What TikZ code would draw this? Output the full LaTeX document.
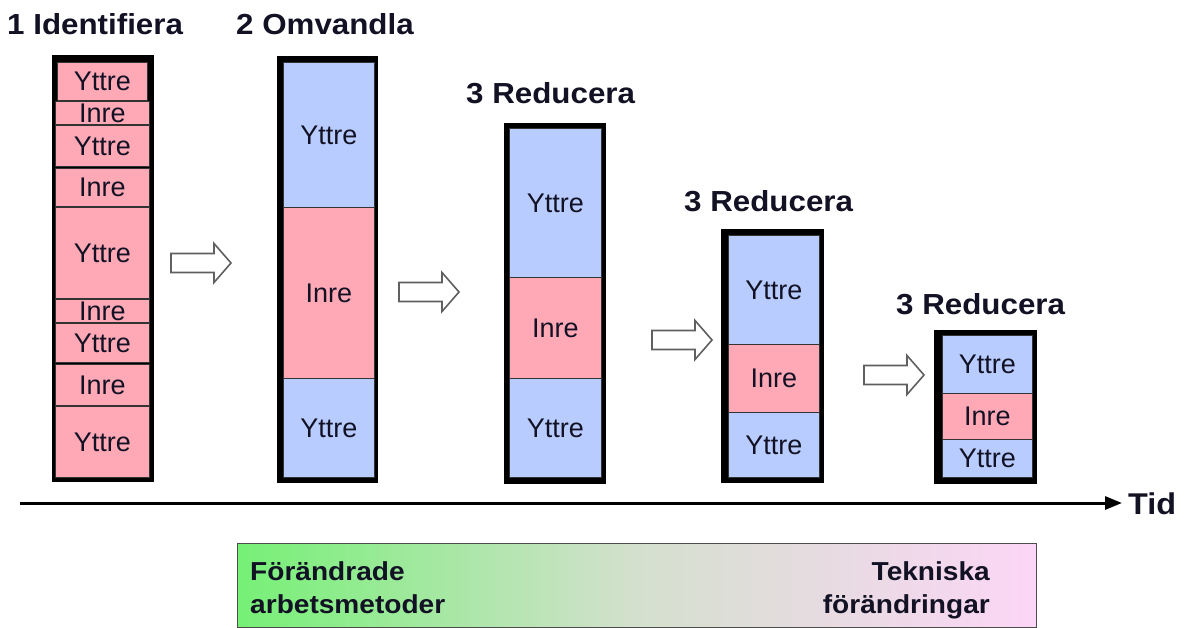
\documentclass[tikz,border=0pt]{standalone}
\usepackage{fontspec}
\setmainfont{Liberation Sans}
\usetikzlibrary{arrows.meta}

\definecolor{outerblue}{RGB}{184,204,255}
\definecolor{innerpink}{RGB}{255,168,182}
\definecolor{inkdark}{RGB}{18,18,36}
\definecolor{greenleft}{RGB}{118,240,118}
\definecolor{midgrey}{RGB}{212,224,206}
\definecolor{pinkright}{RGB}{252,214,246}

\tikzset{
  frame/.style={fill=black},
  cell/.style={draw=black!80, line width=0.8pt, text=inkdark,
    font=\fontsize{27}{30}\selectfont},
  yttre/.style={cell, fill=outerblue},
  inre/.style={cell, fill=innerpink},
  title/.style={font=\bfseries\fontsize{29}{33}\selectfont, text=inkdark,
    anchor=base west, inner sep=0pt, xscale=1.08},
  boldtext/.style={font=\bfseries\fontsize{26}{30}\selectfont, text=inkdark,
    inner sep=0pt, xscale=1.08},
  stepline/.style={draw=gray!75!black, fill=white, line width=1.6pt, line join=miter},
  timeline/.style={line width=3pt, -{Triangle[length=17pt,width=13pt]}},
  gradbox/.style={draw=black!70, line width=1pt, left color=greenleft,
    right color=pinkright, middle color=midgrey, inner sep=0pt, anchor=north west}
}

% rectangular block: name, style, x1, y1, x2, y2, text
\newcommand\blk[7]{%
  \node[#2, anchor=north west, inner sep=0pt,
        minimum width={(#5-#3)*1pt}, minimum height={(#6-#4)*1pt}]
        (#1) at (#3,#4) {#7};}

% hollow block arrow: name, tail x, centre y
\newcommand\steparrow[3]{%
  \coordinate (#1) at (#2,#3);
  \draw[stepline] (#1) ++(0,-9.5) -- ++(43,0) -- ++(0,-10) -- ++(17,19.5)
    -- ++(-17,19.5) -- ++(0,-10) -- ++(-43,0) -- cycle;}

\begin{document}
\begin{tikzpicture}[x=1pt,y=-1pt]
\useasboundingbox (0,0) rectangle (1188,628);
\fill[white] (0,0) rectangle (1188,628);

% headings
\node[title] (h1) at (7,35)   {1 Identifiera};
\node[title] (h2) at (236,35) {2 Omvandla};
\node[title] (h3) at (466,104) {3 Reducera};
\node[title] (h4) at (684,212) {3 Reducera};
\node[title] (h5) at (896,314) {3 Reducera};

% column 1
\blk{f1}{frame}{52}{55}{154}{482}{}
\blk{c11}{inre}{57}{62}{147}{100}{Yttre}
\blk{c12}{inre}{55}{101}{149}{124}{Inre}
\blk{c13}{inre}{55}{125}{149}{166}{Yttre}
\blk{c14}{inre}{55}{168}{149}{206}{Inre}
\blk{c15}{inre}{55}{207}{149}{298}{Yttre}
\blk{c16}{inre}{55}{299}{149}{322}{Inre}
\blk{c17}{inre}{55}{323}{149}{362}{Yttre}
\blk{c18}{inre}{55}{364}{149}{405}{Inre}
\blk{c19}{inre}{55}{406}{149}{477}{Yttre}

% column 2
\blk{f2}{frame}{277}{56}{378}{483}{}
\blk{c21}{yttre}{283}{62}{374}{207}{Yttre}
\blk{c22}{inre}{283}{207}{374}{378}{Inre}
\blk{c23}{yttre}{283}{378}{374}{477}{Yttre}

% column 3
\blk{f3}{frame}{504}{123}{606}{484}{}
\blk{c31}{yttre}{509}{128}{601}{277}{Yttre}
\blk{c32}{inre}{509}{277}{601}{378}{Inre}
\blk{c33}{yttre}{509}{378}{601}{477}{Yttre}

% column 4
\blk{f4}{frame}{721}{229}{824}{483}{}
\blk{c41}{yttre}{728}{235}{819}{344}{Yttre}
\blk{c42}{inre}{728}{344}{819}{412}{Inre}
\blk{c43}{yttre}{728}{412}{819}{477}{Yttre}

% column 5
\blk{f5}{frame}{934}{330}{1037}{484}{}
\blk{c51}{yttre}{942}{335}{1032}{393}{Yttre}
\blk{c52}{inre}{942}{393}{1032}{439}{Inre}
\blk{c53}{yttre}{942}{439}{1032}{477}{Yttre}

% step arrows between the columns
\steparrow{a1}{171}{263}
\steparrow{a2}{399}{292}
\steparrow{a3}{652}{340}
\steparrow{a4}{864}{375}

% time axis
\coordinate (t0) at (20,503);
\node[boldtext, font=\bfseries\fontsize{30}{34}\selectfont, anchor=base west]
  (tid) at (1128,514) {Tid};
\coordinate (t1) at (1122,503);
\draw[timeline] (t0) -- (t1);

% bottom gradient bar
\node[gradbox, minimum width=799pt, minimum height=84pt] (bar) at (237,543) {};
\node[boldtext, anchor=base west] (l1) at (250,580) {Förändrade};
\node[boldtext, anchor=base west] (l2) at (250,613) {arbetsmetoder};
\node[boldtext, anchor=base east] (r1) at (990,580) {Tekniska};
\node[boldtext, anchor=base east] (r2) at (990,613) {förändringar};
\end{tikzpicture}
\end{document}
